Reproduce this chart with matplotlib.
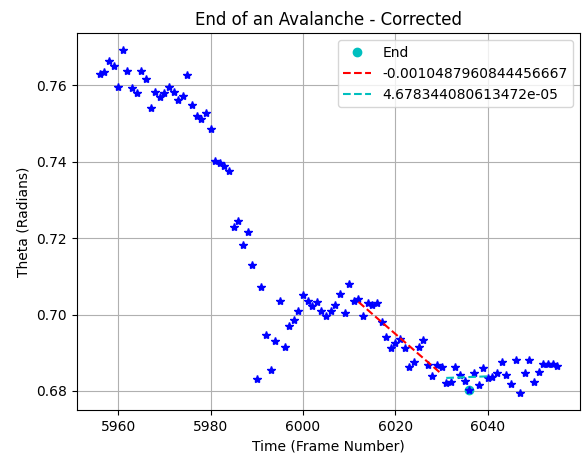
import numpy as np
import matplotlib
matplotlib.use("Agg")
import matplotlib.pyplot as plt

frames = np.arange(5956, 6056)
theta = [
    0.7631, 0.7634, 0.7663, 0.7650, 0.7597, 0.7692, 0.7637, 0.7592, 0.7579, 0.7637,
    0.7618, 0.7542, 0.7582, 0.7569, 0.7579, 0.7597, 0.7584, 0.7561, 0.7571, 0.7626,
    0.7548, 0.7519, 0.7513, 0.7529, 0.7487, 0.7401, 0.7396, 0.7390, 0.7377, 0.7228,
    0.7246, 0.7181, 0.7217, 0.7131, 0.6832, 0.7073, 0.6947, 0.6856, 0.6932, 0.7036,
    0.6916, 0.6971, 0.6987, 0.7008, 0.7050, 0.7036, 0.7023, 0.7034, 0.7010, 0.6997,
    0.7008, 0.7026, 0.7055, 0.7005, 0.7081, 0.7036, 0.7042, 0.6997, 0.7031, 0.7026,
    0.7029, 0.6981, 0.6942, 0.6913, 0.6926, 0.6937, 0.6913, 0.6863, 0.6877, 0.6916,
    0.6934, 0.6869, 0.6840, 0.6869, 0.6863, 0.6822, 0.6824, 0.6863, 0.6842, 0.6827,
    0.6803, 0.6848, 0.6816, 0.6861, 0.6835, 0.6837, 0.6848, 0.6877, 0.6842, 0.6819,
    0.6882, 0.6795, 0.6848, 0.6882, 0.6824, 0.6850, 0.6871, 0.6871, 0.6871, 0.6866,
]

end_frame = 6036
end_theta = 0.6803

# linear fits (slope from legend, anchored at first frame of each range)
fit1_frames = np.arange(6012, 6031)
fit1_slope = -0.0010487960844456667
fit1_start = 0.7033
fit2_frames = np.arange(6031, 6041)
fit2_slope = 4.678344080613472e-05
fit2_start = 0.6834

fit1 = fit1_start + fit1_slope * (fit1_frames - fit1_frames[0])
fit2 = fit2_start + fit2_slope * (fit2_frames - fit2_frames[0])

fig = plt.figure(figsize=(5.82, 4.54), dpi=100)
ax = fig.add_subplot(111)
fig.subplots_adjust(left=0.132, right=0.9966, top=0.927, bottom=0.097)

ax.plot(end_frame, end_theta, "co", label="End")
ax.plot(frames, theta, "b*")
ax.plot(fit1_frames, fit1, "r--", label=str(fit1_slope))
ax.plot(fit2_frames, fit2, "c--", label=str(fit2_slope))

ax.set_title("End of an Avalanche - Corrected")
ax.set_xlabel("Time (Frame Number)")
ax.set_ylabel("Theta (Radians)")
ax.grid(True)
ax.legend(loc="upper right")

plt.savefig("out.png")
